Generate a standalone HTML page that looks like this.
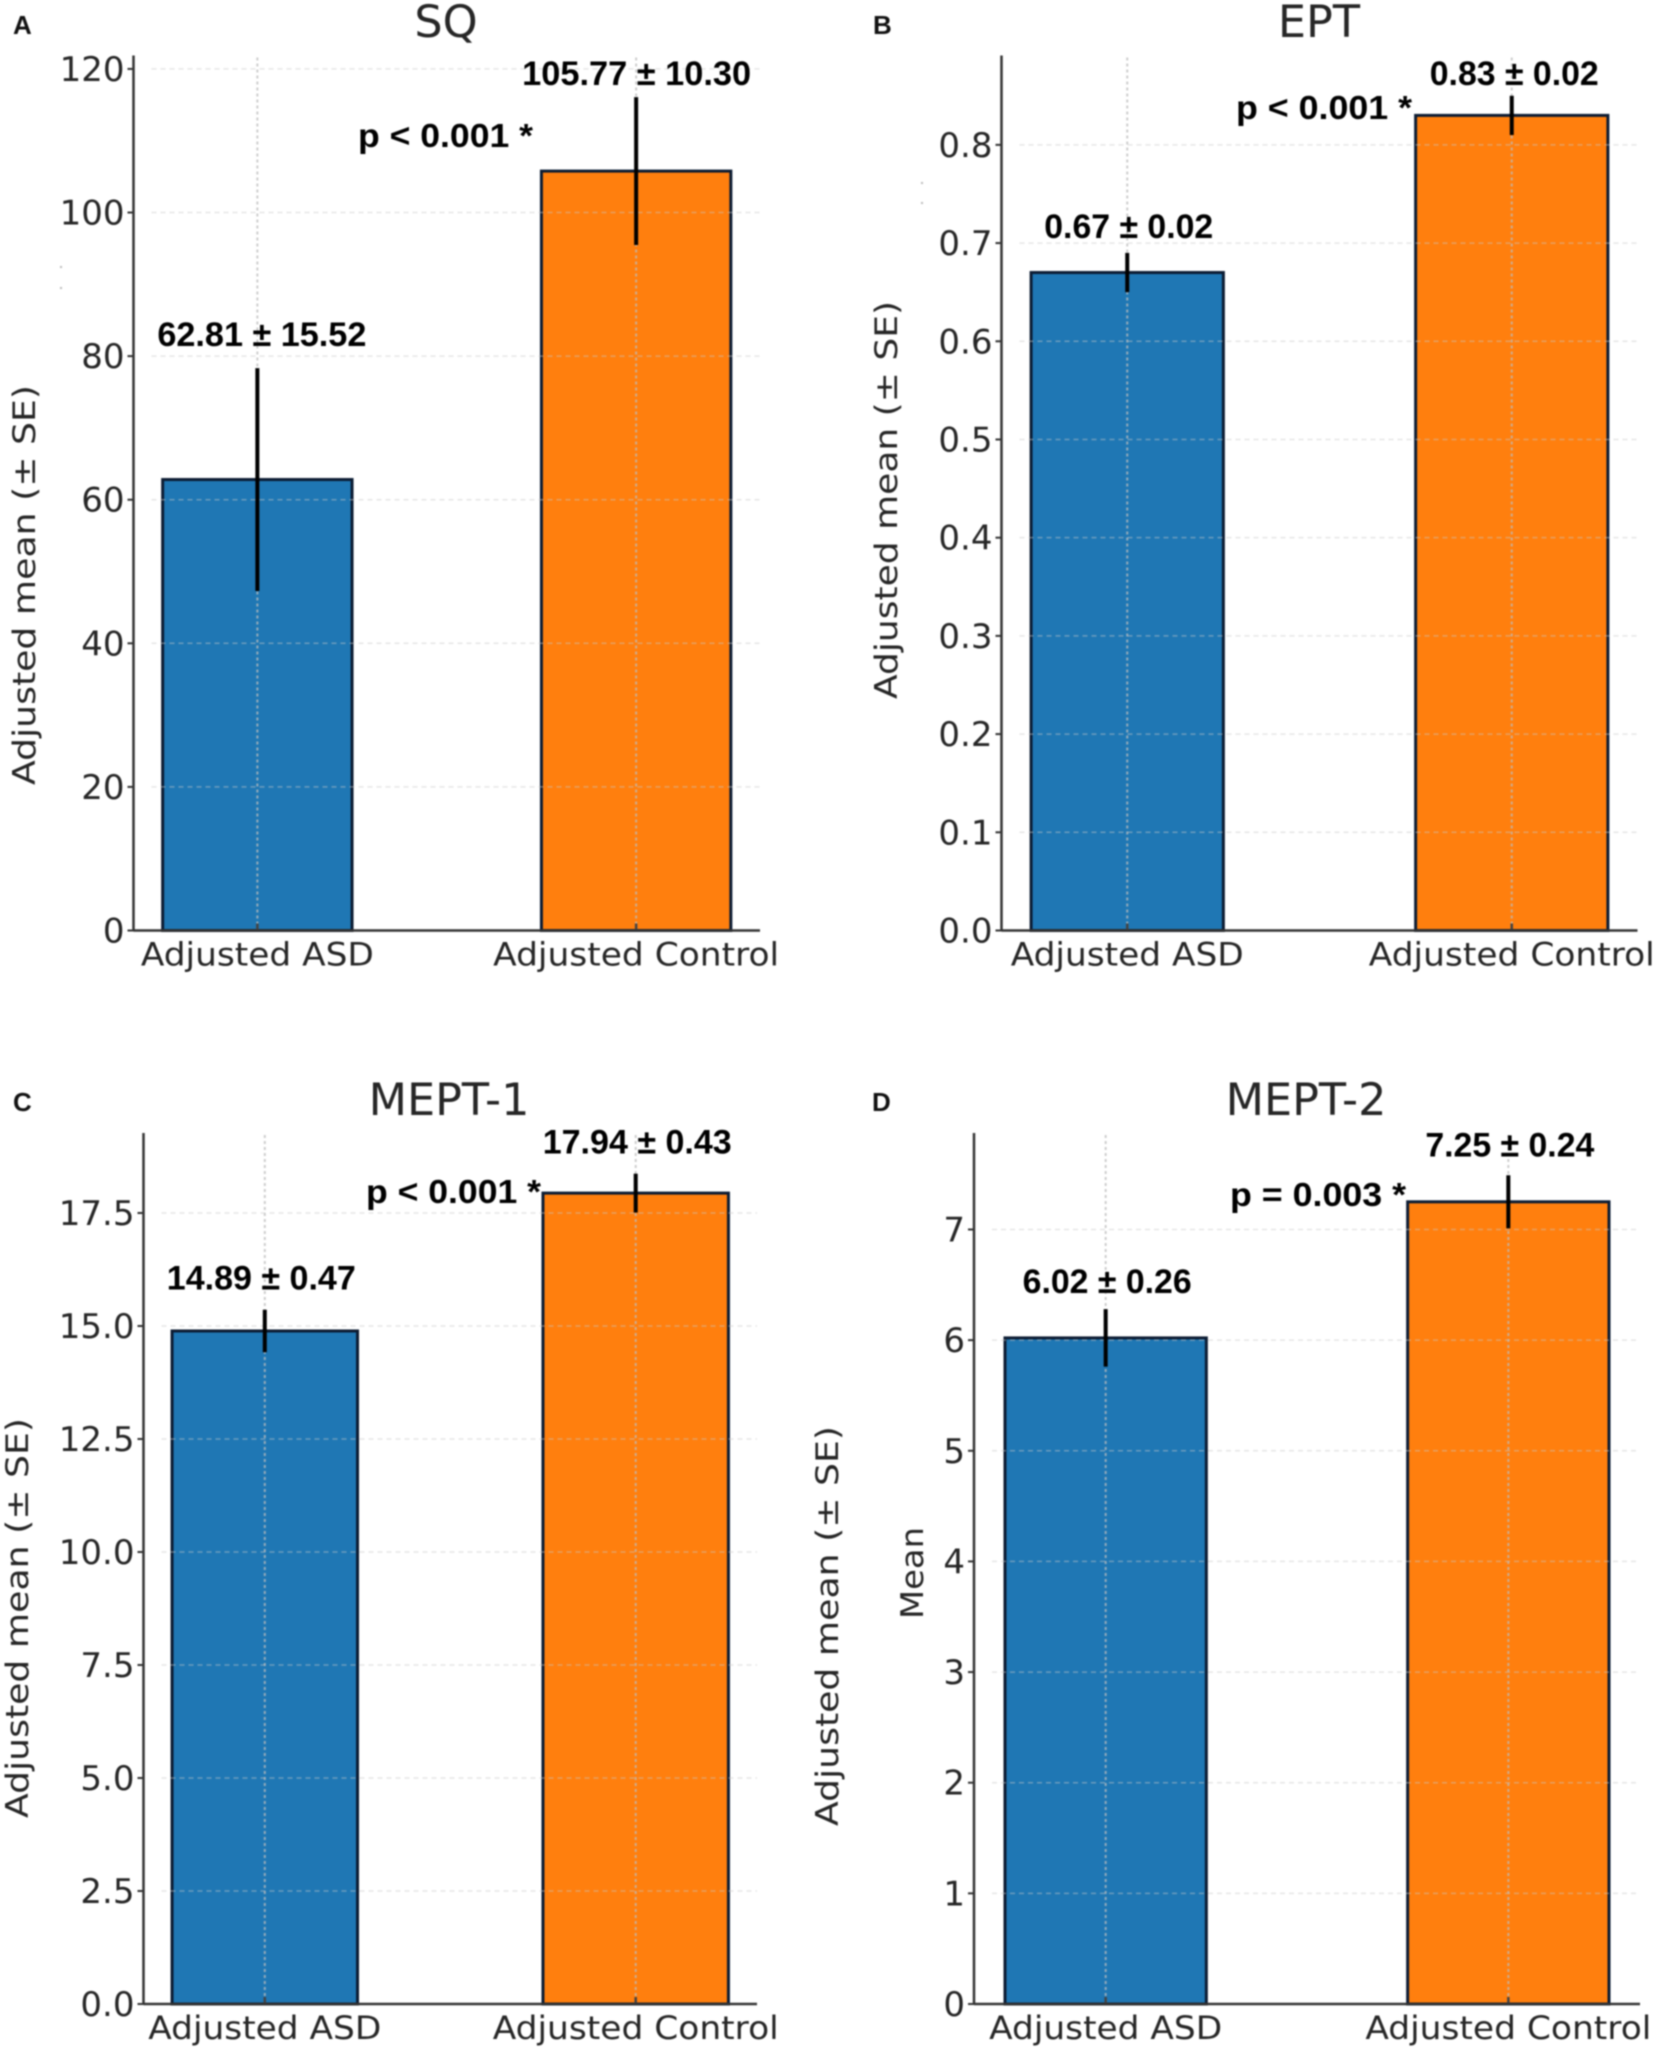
<!DOCTYPE html>
<html lang="en">
<head>
<meta charset="utf-8">
<title>Adjusted means: SQ, EPT, MEPT-1, MEPT-2</title>
<style>
html,body{margin:0;padding:0;background:#fff;}
svg{display:block;filter:blur(0.8px);}
.letter{font:bold 26px "Liberation Sans",sans-serif;fill:#111;}
.title{font:44.5px "DejaVu Sans",sans-serif;fill:#262626;text-anchor:middle;}
.ylabel{font:31px "DejaVu Sans",sans-serif;fill:#262626;text-anchor:middle;}
.tick{font:34px "DejaVu Sans",sans-serif;fill:#262626;text-anchor:end;}
.cat{font:32px "DejaVu Sans",sans-serif;fill:#262626;text-anchor:middle;}
.val{font:bold 34px "Liberation Sans",sans-serif;fill:#000;text-anchor:middle;}
.pval{font:bold 33px "Liberation Sans",sans-serif;fill:#000;}
</style>
</head>
<body>
<svg id="figure" xmlns="http://www.w3.org/2000/svg" width="1654" height="2051" viewBox="0 0 1654 2051">
  <rect width="1654" height="2051" fill="#fff"/>

  <g id="plot-a"></g>
  <g id="plot-b"></g>
  <g id="plot-c"></g>
  <g id="plot-d"></g>

  <text class="letter" x="13" y="34">A</text>
  <text class="letter" x="873" y="34">B</text>
  <text class="letter" x="13" y="1111">C</text>
  <text class="letter" x="872" y="1111">D</text>

  <text class="title" x="446" y="37">SQ</text>
  <text class="title" x="1319" y="37">EPT</text>
  <text class="title" x="449" y="1115">MEPT-1</text>
  <text class="title" x="1306" y="1115">MEPT-2</text>

  <text class="ylabel" transform="translate(35,585) rotate(-90)" textLength="400" lengthAdjust="spacingAndGlyphs">Adjusted mean (± SE)</text>
  <text class="ylabel" transform="translate(897,500) rotate(-90)" textLength="398" lengthAdjust="spacingAndGlyphs">Adjusted mean (± SE)</text>
  <text class="ylabel" transform="translate(28,1618) rotate(-90)" textLength="400" lengthAdjust="spacingAndGlyphs">Adjusted mean (± SE)</text>
  <text class="ylabel" transform="translate(838,1626) rotate(-90)" textLength="400" lengthAdjust="spacingAndGlyphs">Adjusted mean (± SE)</text>
  <text class="ylabel" transform="translate(923,1573) rotate(-90)" textLength="92" lengthAdjust="spacingAndGlyphs">Mean</text>

  <text class="pval" x="358" y="147" textLength="175" lengthAdjust="spacingAndGlyphs">p &lt; 0.001 *</text>
  <text class="pval" x="1236" y="119" textLength="176" lengthAdjust="spacingAndGlyphs">p &lt; 0.001 *</text>
  <text class="pval" x="366" y="1203" textLength="175" lengthAdjust="spacingAndGlyphs">p &lt; 0.001 *</text>
  <text class="pval" x="1230" y="1206" textLength="176" lengthAdjust="spacingAndGlyphs">p = 0.003 *</text>

  <rect x="60" y="266" width="2" height="2" fill="#bbb"/>
  <rect x="60" y="287" width="2" height="2" fill="#bbb"/>
  <rect x="921" y="182" width="2" height="2" fill="#bbb"/>
  <rect x="921" y="202" width="2" height="2" fill="#bbb"/>
</svg>

<script>
// Chart data
const categories = ['Adjusted ASD', 'Adjusted Control'];

const sqMeans = [62.81, 105.77];
const sqErrors = [15.52, 10.30];
const sqTicks = ['0', '20', '40', '60', '80', '100', '120'];
const sqDomain = [0, 121.87];

const eptMeans = [0.67, 0.83];
const eptErrors = [0.02, 0.02];
const eptTicks = ['0.0', '0.1', '0.2', '0.3', '0.4', '0.5', '0.6', '0.7', '0.8'];
const eptDomain = [0, 0.891];

const mept1Means = [14.89, 17.94];
const mept1Errors = [0.47, 0.43];
const mept1Ticks = ['0.0', '2.5', '5.0', '7.5', '10.0', '12.5', '15.0', '17.5'];
const mept1Domain = [0, 19.27];

const mept2Means = [6.02, 7.25];
const mept2Errors = [0.26, 0.24];
const mept2Ticks = ['0', '1', '2', '3', '4', '5', '6', '7'];
const mept2Domain = [0, 7.872];

const SVG_NS = 'http://www.w3.org/2000/svg';

function shape(parent, tag, attrs, text) {
  const el = document.createElementNS(SVG_NS, tag);
  for (const k in attrs) el.setAttribute(k, attrs[k]);
  if (text !== undefined) el.textContent = text;
  parent.appendChild(el);
  return el;
}

function drawPanel(targetId, box, means, errors, ticks, domain, decimals, labelGaps, labelNudges) {
  const root = document.getElementById(targetId);
  const pad = 0.327;
  const barFraction = 0.5;
  const yAxis = function (v) {
    return box.bottom - (v - domain[0]) / (domain[1] - domain[0]) * (box.bottom - box.top);
  };
  const step = (box.right - box.left) / (categories.length - 1 + 2 * pad);
  const xAxis = function (i) {
    return box.left + (i + pad) * step;
  };

  // bars
  means.forEach(function (m, i) {
    const w = step * barFraction;
    const el = shape(root, 'rect', {
      x: xAxis(i) - w / 2, y: yAxis(m), width: w, height: yAxis(0) - yAxis(m),
      fill: i === 0 ? '#1f77b4' : '#ff7f0e', stroke: '#0c1c33', 'stroke-width': 3
    });
    
    
  });

  // horizontal grid and y ticks
  ticks.forEach(function (t) {
    const v = parseFloat(t);
    const y = yAxis(v);
    if (v !== 0) {
      const g = shape(root, 'line', {
        x1: box.left + 18, x2: box.right, y1: y, y2: y,
        stroke: '#c9c9c9', 'stroke-width': 1.5, 'stroke-dasharray': '5 4', opacity: 0.45
      });
      
      
    }
    const tm = shape(root, 'line', {
      x1: box.left - 6, x2: box.left, y1: y, y2: y, stroke: '#333', 'stroke-width': 2
    });
    
    
    const tl = shape(root, 'text', { class: 'tick', x: box.left - 9, y: y + 12 }, t);
    
    
  });

  // vertical grid, whiskers, labels
  categories.forEach(function (c, i) {
    const x = xAxis(i);
    const vg = shape(root, 'line', {
      x1: x, x2: x, y1: box.top + 2, y2: box.bottom,
      stroke: '#bdbdbd', 'stroke-width': 2, 'stroke-dasharray': '3 3', opacity: 0.75
    });
    
    

    const eb = shape(root, 'line', {
      x1: x, x2: x, y1: yAxis(means[i] - errors[i]), y2: yAxis(means[i] + errors[i]),
      stroke: '#000', 'stroke-width': 4
    });
    
    

    const xt = shape(root, 'line', {
      x1: x, x2: x, y1: box.bottom - 7, y2: box.bottom, stroke: '#444', 'stroke-width': 2.5
    });
    
    

    const valueText = means[i].toFixed(decimals) + ' ± ' + errors[i].toFixed(decimals);
    const vl = shape(root, 'text', {
      class: 'val', x: x + labelNudges[i], y: yAxis(means[i] + errors[i]) - labelGaps[i],
      textLength: 20 * valueText.replace(/ /g, '').length - 11, lengthAdjust: 'spacingAndGlyphs'
    }, valueText);
    
    

    const cl = shape(root, 'text', {
      class: 'cat', x: x, y: box.bottom + 35,
      textLength: i === 0 ? 233 : 286, lengthAdjust: 'spacingAndGlyphs'
    }, c);
    
    
  });

  // axis spines
  const ya = shape(root, 'line', {
    x1: box.left, x2: box.left, y1: box.top, y2: box.bottom, stroke: '#333', 'stroke-width': 2.5
  });
  
  
  const xa = shape(root, 'line', {
    x1: box.left, x2: box.right, y1: box.bottom, y2: box.bottom, stroke: '#333', 'stroke-width': 2.5
  });
  
  
}

drawPanel('plot-a', { left: 133.5, right: 760, top: 55.5, bottom: 930.5 }, sqMeans, sqErrors, sqTicks, sqDomain, 2, [22, 12], [4.5, 0.5]);
drawPanel('plot-b', { left: 1001.5, right: 1637.5, top: 55.5, bottom: 930.5 }, eptMeans, eptErrors, eptTicks, eptDomain, 2, [15, 11], [1.5, 2.5]);
drawPanel('plot-c', { left: 143.5, right: 757, top: 1133, bottom: 2004 }, mept1Means, mept1Errors, mept1Ticks, mept1Domain, 2, [20, 20], [-3.5, 1.5]);
drawPanel('plot-d', { left: 974, right: 1640, top: 1133, bottom: 2004 }, mept2Means, mept2Errors, mept2Ticks, mept2Domain, 2, [16, 19], [1.5, 1.5]);
</script>
</body>
</html>
